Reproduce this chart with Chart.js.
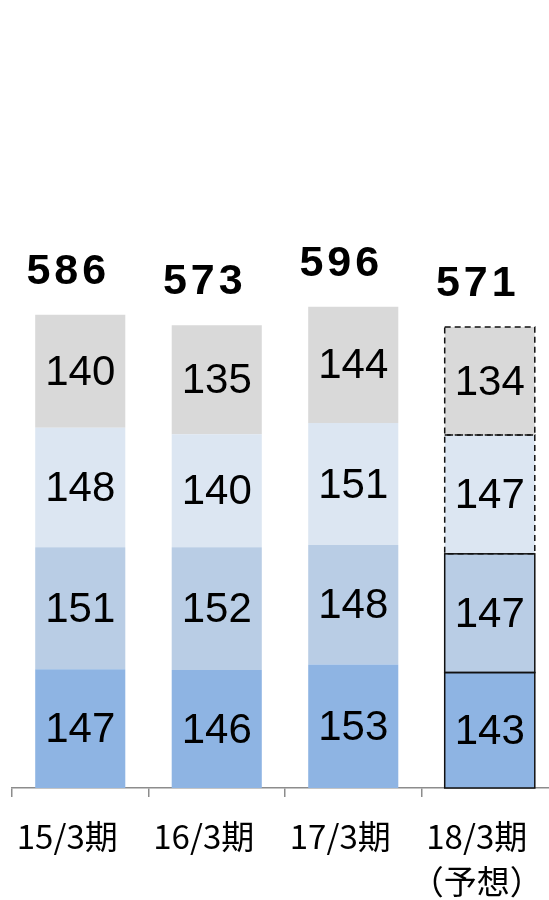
<!DOCTYPE html>
<html>
<head>
<meta charset="utf-8">
<script src="https://cdn.jsdelivr.net/npm/chart.js@4.4.1/dist/chart.umd.min.js"></script>
<style>
    html, body { margin: 0; padding: 0; background: #fff; overflow: hidden; }
    #wrap { width: 560px; height: 900px; position: relative; }
</style>
</head>
<body>
<div id="wrap"><canvas id="salesChart"></canvas></div>
<script>
const periods = ['15/3期', '16/3期', '17/3期', ['18/3期', '（予想）']];
const q1 = [147, 146, 153, 143];
const q2 = [151, 152, 148, 147];
const q3 = [148, 140, 151, 147];
const q4 = [140, 135, 144, 134];
const totals = [586, 573, 596, 571];
const forecastIndex = 3; // 予想の列

// 数値ラベル・合計・予想枠を描くプラグイン
const labelPlugin = {
    id: 'segmentLabels',
    afterDatasetsDraw(chart) {
        const ctx = chart.ctx;
        ctx.save();
        ctx.textAlign = 'center';
        ctx.textBaseline = 'middle';
        ctx.fillStyle = '#000';
        ctx.font = '42px "Liberation Sans"';
        chart.data.datasets.forEach((ds, di) => {
            chart.getDatasetMeta(di).data.forEach((bar, i) => {
                const p = bar.getProps(['x', 'y', 'base'], true);
                ctx.fillText(ds.data[i], p.x, (p.y + p.base) / 2 + 2);
            });
        });

        // 予想の枠線（下2段は実線、上2段は破線）
        ctx.strokeStyle = '#111';
        ctx.lineWidth = 1.5;
        chart.data.datasets.forEach((ds, di) => {
            const p = chart.getDatasetMeta(di).data[forecastIndex].getProps(['x', 'y', 'base', 'width'], true);
            ctx.setLineDash(di >= 2 ? [6, 4] : []);
            ctx.strokeRect(p.x - p.width / 2, p.y, p.width, p.base - p.y);
        });
        ctx.setLineDash([]);

        // 合計
        const topMeta = chart.getDatasetMeta(chart.data.datasets.length - 1);
        ctx.font = 'bold 43px "Liberation Sans"';
        ctx.letterSpacing = '4px';
        topMeta.data.forEach((bar, i) => {
            const p = bar.getProps(['x', 'y'], true);
            ctx.fillText(totals[i], p.x - 12, p.y - 43);
        });
        ctx.restore();
    }
};

const ctx = document.getElementById('salesChart').getContext('2d');
new Chart(ctx, {
    type: 'bar',
    data: {
        labels: periods,
        datasets: [
            { label: 'Q1', data: q1, backgroundColor: '#8EB4E3' },
            { label: 'Q2', data: q2, backgroundColor: '#B9CDE5' },
            { label: 'Q3', data: q3, backgroundColor: '#DCE6F2' },
            { label: 'Q4', data: q4, backgroundColor: '#D9D9D9' }
        ]
    },
    options: {
        responsive: true,
        maintainAspectRatio: false,
        animation: false,
        datasets: { bar: { categoryPercentage: 1, barPercentage: 0.66, borderWidth: 0 } },
        layout: { padding: { top: 142, left: 12, right: 2, bottom: -21 } },
        plugins: {
            legend: { display: false },
            tooltip: { enabled: false }
        },
        scales: {
            x: {
                stacked: true,
                afterFit: (scale) => { scale.paddingLeft = 0; scale.paddingRight = 0; },
                border: { display: true, color: '#8c8c8c', width: 1.5 },
                grid: { drawOnChartArea: false, drawTicks: true, tickLength: 9, color: '#8c8c8c', lineWidth: 1.5 },
                ticks: {
                    color: '#000',
                    padding: 17,
                    labelOffset: -13,
                    maxRotation: 0,
                    autoSkip: false,
                    font: { family: '"Noto Sans CJK JP"', size: 33, lineHeight: '45px' }
                }
            },
            y: {
                stacked: true,
                display: false,
                min: 0,
                max: 800
            }
        }
    },
    plugins: [labelPlugin]
});
</script>
</body>
</html>
